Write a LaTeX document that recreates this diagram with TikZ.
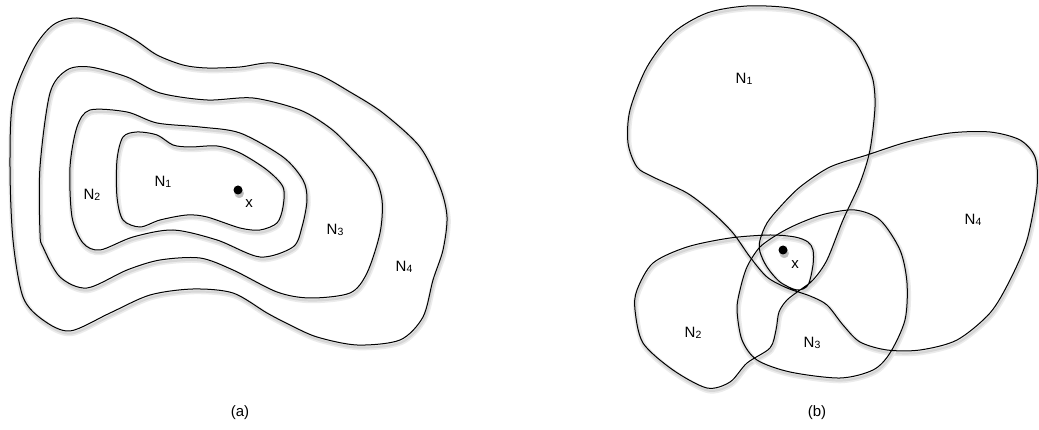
\documentclass[tikz,border=0pt]{standalone}
\usepackage{fontspec}
\setmainfont{Liberation Sans}
\usetikzlibrary{shadows}

\pgfdeclarelayer{bg}
\pgfsetlayers{bg,main}

% N with a small index
\newcommand{\nsub}[1]{N\raisebox{-0.6pt}{\fontsize{10.5}{10.5}\selectfont #1}}
% closed boundary with its soft shadow
\newcommand{\ring}[1]{%
  \begin{pgfonlayer}{bg}
    \draw[halo] plot[smooth cycle] coordinates {#1};
    \draw[halo, draw=black!16, line width=2.2pt] plot[smooth cycle] coordinates {#1};
  \end{pgfonlayer}
  \draw[rim] plot[smooth cycle] coordinates {#1};}

\begin{document}
\begin{tikzpicture}[x=1pt, y=-1pt,
    rim/.style = {draw, line width=1pt},
    halo/.style = {draw=black!8, line width=5.5pt, transform canvas={shift={(1pt,-2.5pt)}}},
    lab/.style = {font=\fontsize{15}{15}\selectfont, inner sep=0pt},
    pt/.style = {circle, fill=black, minimum size=9pt, inner sep=0pt,
                 circular drop shadow={shadow xshift=1pt, shadow yshift=-3pt, opacity=0.5}}
]
    \useasboundingbox (0,0) rectangle (1039,430);

    % (a) nested neighbourhoods
    \ring{(77,18) (110,27) (135,40) (157,55) (183,65) (207,68) (240,67) (273,63) (317,74)
          (350,92) (383,113) (420,147) (440,187) (447,217) (443,250) (433,280) (423,317)
          (400,340) (357,345) (317,337) (290,325) (267,313) (233,293) (193,289) (150,295)
          (110,313) (70,331) (43,320) (23,297) (13,240) (10,167) (13,100) (33,50) (53,25)}
    \ring{(90,67) (127,77) (160,93) (207,100) (253,98) (300,110) (330,128) (350,147)
          (373,173) (382,200) (380,233) (367,273) (350,293) (310,298) (277,292) (233,270)
          (200,258) (160,260) (127,270) (87,288) (60,277) (43,247) (40,233) (40,167)
          (50,93) (67,70)}
    \ring{(90,110) (127,112) (157,123) (200,127) (240,133) (283,157) (303,180) (307,200)
          (302,227) (293,247) (260,257) (217,240) (173,230) (133,237) (100,250) (83,243)
          (72,217) (70,167) (77,127)}
    \ring{(137,132) (157,135) (173,145) (190,147) (217,146) (240,153) (267,170) (283,187)
          (283,207) (277,223) (260,230) (240,228) (207,217) (187,215) (160,220) (140,227)
          (123,220) (117,197) (117,160) (123,137)}

    \node[pt] (xa) at (238,190) {};
    \node[lab] (xla) at (249,204) {x};
    \node[lab] (a1) at (163,182) {\nsub{1}};
    \node[lab] (a2) at (92,195) {\nsub{2}};
    \node[lab] (a3) at (335,230) {\nsub{3}};
    \node[lab] (a4) at (404,267) {\nsub{4}};
    \node[lab] (capa) at (240,413) {(a)};

    % (b) overlapping neighbourhoods
    \ring{(790,8) (747,6) (707,13) (673,33) (647,67) (630,110) (628,143) (637,167) (653,177)
          (687,193) (713,213) (733,233) (750,257) (767,277) (787,288) (810,296) (827,305)
          (843,325) (860,342) (887,350) (920,350) (957,340) (990,313) (1010,280) (1027,240)
          (1037,187) (1035,157) (1020,140) (990,132) (950,133) (907,142) (867,155) (830,167)
          (800,187) (780,207) (767,223) (760,240) (760,252) (767,267) (780,282) (797,290)
          (808,285) (813,265) (813,250) (808,242) (795,237) (770,235) (730,238) (687,247)
          (653,263) (637,290) (635,310) (643,343) (673,370) (707,388) (730,382) (747,363)
          (770,348) (776,330) (779,312) (787,300) (800,290) (813,280) (827,260) (843,220)
          (860,183) (870,150) (875,107) (873,80) (865,60) (853,40) (823,18)}
    \ring{(855,210) (880,220) (900,250) (907,283) (905,320) (890,353) (873,370) (840,378)
          (790,372) (757,360) (742,340) (737,310) (740,290) (747,267) (760,247) (780,233)
          (800,223) (825,214)}

    \node[pt] (xb) at (783,250) {};
    \node[lab] (xlb) at (795,265) {x};
    \node[lab] (b1) at (744,79) {\nsub{1}};
    \node[lab] (b2) at (693,333) {\nsub{2}};
    \node[lab] (b3) at (812,343) {\nsub{3}};
    \node[lab] (b4) at (973,220) {\nsub{4}};
    \node[lab] (capb) at (817,413) {(b)};
\end{tikzpicture}
\end{document}
